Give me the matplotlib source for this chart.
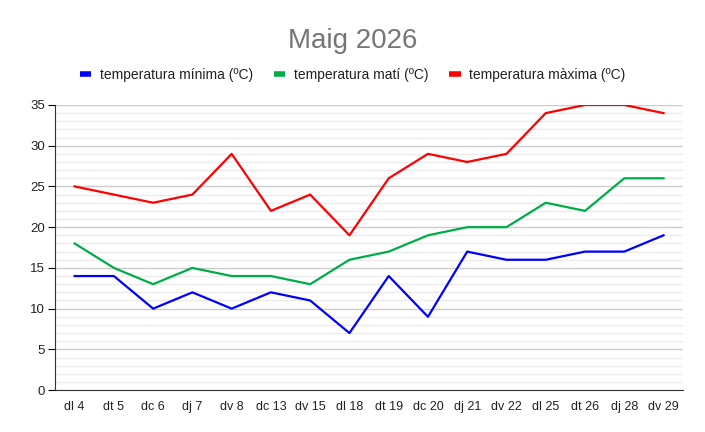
import matplotlib
matplotlib.use("Agg")
import matplotlib.pyplot as plt
from matplotlib.ticker import MultipleLocator

plt.rcParams['font.family'] = ['Liberation Sans', 'DejaVu Sans']

dies = ['dl 4', 'dt 5', 'dc 6', 'dj 7', 'dv 8', 'dc 13', 'dv 15', 'dl 18',
        'dt 19', 'dc 20', 'dj 21', 'dv 22', 'dl 25', 'dt 26', 'dj 28', 'dv 29']
t_min = [14, 14, 10, 12, 10, 12, 11, 7, 14, 9, 17, 16, 16, 17, 17, 19]
t_mati = [18, 15, 13, 15, 14, 14, 13, 16, 17, 19, 20, 20, 23, 22, 26, 26]
t_max = [25, 24, 23, 24, 29, 22, 24, 19, 26, 29, 28, 29, 34, 35, 35, 34]

fig = plt.figure(figsize=(7.05, 4.32), dpi=100)
ax = fig.add_axes([0.078, 0.097, 0.891, 0.66])

x = range(len(dies))
ax.plot(x, t_min, color='#0000ff', lw=1.6, label='temperatura mínima (ºC)')
ax.plot(x, t_mati, color='#00ac47', lw=1.6, label='temperatura matí (ºC)')
ax.plot(x, t_max, color='#ff0000', lw=1.6, label='temperatura màxima (ºC)')

ax.set_xlim(-0.5, len(dies) - 0.5)
ax.set_ylim(0, 35)
ax.set_xticks(list(x))
ax.set_xticklabels(dies, fontsize=9, color='#222222')
ax.yaxis.set_major_locator(MultipleLocator(5))
ax.yaxis.set_minor_locator(MultipleLocator(1))
ax.tick_params(axis='y', which='major', length=5, pad=2, labelsize=9.5, labelcolor='#222222')
ax.tick_params(axis='y', which='minor', length=0)
ax.tick_params(axis='x', length=0, pad=8)
ax.grid(axis='y', which='major', color='#cccccc', lw=1)
ax.grid(axis='y', which='minor', color='#ebebeb', lw=1)
ax.set_axisbelow(True)
for s in ['top', 'right']:
    ax.spines[s].set_visible(False)
ax.spines['left'].set_color('#333333')
ax.spines['bottom'].set_color('#333333')

fig.text(0.5, 0.906, 'Maig 2026', ha='center', va='center', fontsize=20, color='#757575')
leg = fig.legend(loc='center', bbox_to_anchor=(0.5, 0.826), ncol=3, frameon=False,
                 fontsize=10, handlelength=0.85, handletextpad=0.6, columnspacing=1.5,
                 labelcolor='#222222')
for h in leg.get_lines():
    h.set_linewidth(4)
    h.set_solid_capstyle('butt')

fig.savefig('out.png', dpi=100)
